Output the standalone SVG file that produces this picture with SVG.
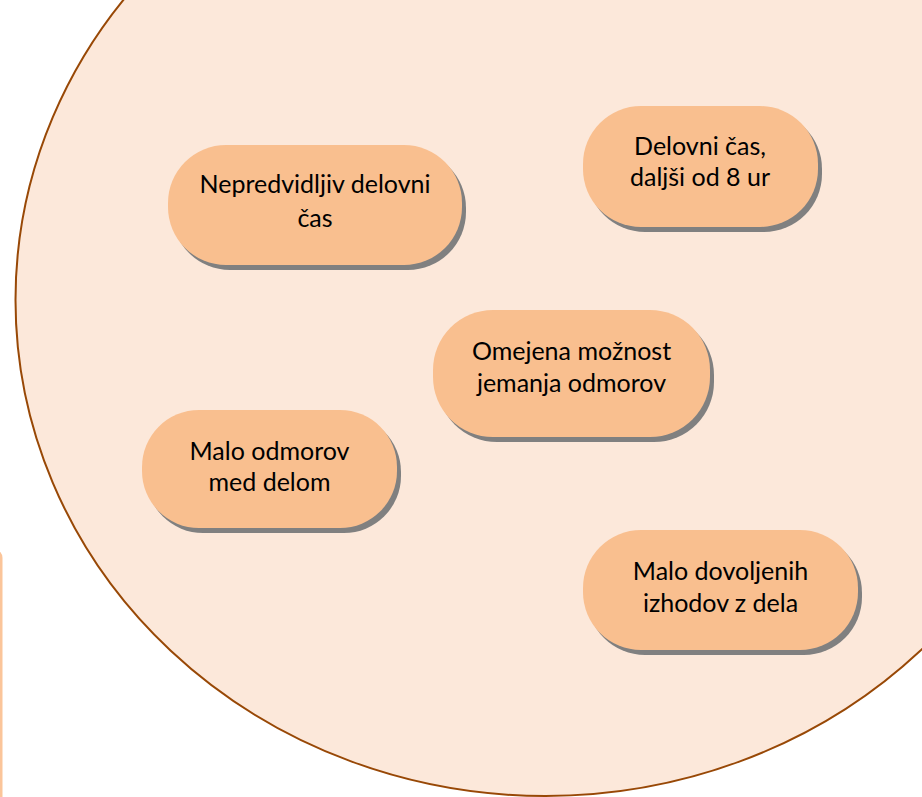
<svg xmlns="http://www.w3.org/2000/svg" width="922" height="797" viewBox="0 0 922 797">
<style>
.bg{fill:#FCE8DA;stroke:#984806;stroke-width:2}
.pill{fill:#F9BF8F}
.sh{fill:#808080}
.t{font-family:Lato,"Open Sans","Liberation Sans",sans-serif;font-size:25px;fill:#000;text-anchor:middle}
</style>
<rect width="922" height="797" fill="#FFFFFF"/>
<rect x="-20" y="548" width="22.5" height="270" rx="10" fill="#FBC59A"/>
<ellipse class="bg" cx="545.5" cy="300" rx="530" ry="496"/>
<g id="node-nepredvidljiv">
<rect class="sh" x="172" y="150" width="294" height="120" rx="58"/>
<rect class="pill" x="168" y="145" width="294" height="120" rx="58"/>
<text class="t" x="315" y="193">Nepredvidljiv delovni</text>
<text class="t" x="315" y="227">čas</text>
</g>
<g id="node-delovni-cas">
<rect class="sh" x="587" y="111" width="235" height="121" rx="58"/>
<rect class="pill" x="583" y="106" width="235" height="121" rx="58"/>
<text class="t" x="700" y="155">Delovni čas,</text>
<text class="t" x="700" y="186">daljši od 8 ur</text>
</g>
<g id="node-omejena">
<rect class="sh" x="437" y="315" width="277" height="127" rx="60"/>
<rect class="pill" x="433" y="310" width="277" height="127" rx="60"/>
<text class="t" x="571.5" y="360">Omejena možnost</text>
<text class="t" x="571.5" y="392">jemanja odmorov</text>
</g>
<g id="node-malo-odmorov">
<rect class="sh" x="146" y="415" width="255" height="118" rx="57"/>
<rect class="pill" x="142" y="410" width="255" height="118" rx="57"/>
<text class="t" x="269.5" y="460">Malo odmorov</text>
<text class="t" x="269.5" y="491">med delom</text>
</g>
<g id="node-malo-izhodov">
<rect class="sh" x="587" y="535" width="275" height="120" rx="58"/>
<rect class="pill" x="583" y="530" width="275" height="120" rx="58"/>
<text class="t" x="720.5" y="580">Malo dovoljenih</text>
<text class="t" x="720.5" y="612">izhodov z dela</text>
</g>
<g id="connectors"></g>
</svg>
